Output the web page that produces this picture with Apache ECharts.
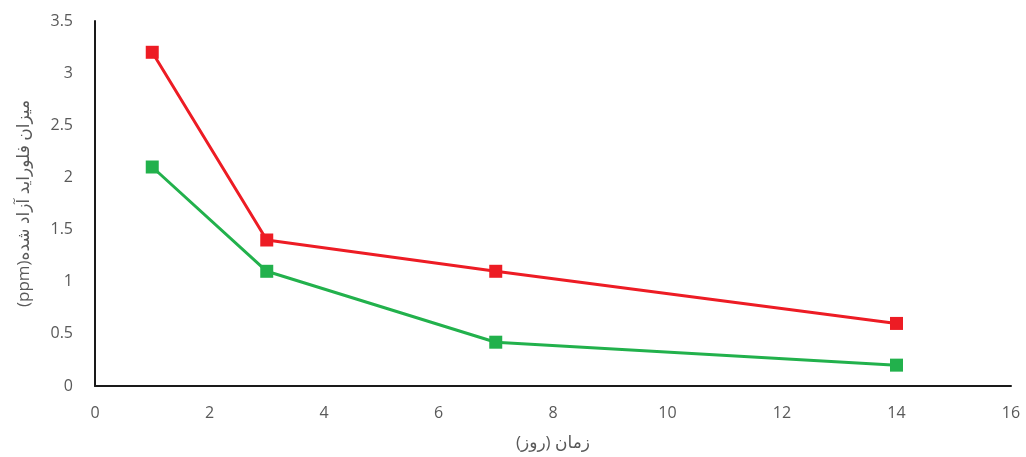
<!DOCTYPE html>
<html>
<head>
<meta charset="utf-8">
<script src="https://cdn.jsdelivr.net/npm/echarts@6/dist/echarts.min.js"></script>
<style>
  html, body { margin: 0; padding: 0; background: #fff; overflow: hidden; }
  #chart { width: 1026px; height: 457px; }
</style>
</head>
<body>
<div id="chart"></div>
<script>
// Fluoride release over time (days), two samples
const days = [1, 3, 7, 14];
const redValues = [3.2, 1.4, 1.1, 0.6];
const greenValues = [2.1, 1.1, 0.42, 0.2];

// Axis titles (wrapped in RTL embedding so the Persian text lays out right-to-left)
const xTitle = '\u202Bزمان (روز)\u202C';
const yTitle = '\u202Bمیزان فلوراید آزاد شده(ppm)\u202C';

const font = "'Open Sans', 'DejaVu Sans', sans-serif";
const labelColor = '#595959';

function pairs(xs, ys) {
  return xs.map((x, i) => [x, ys[i]]);
}

const chart = echarts.init(document.getElementById('chart'), null, { renderer: 'canvas' });
chart.setOption({
  animation: false,
  backgroundColor: '#ffffff',
  grid: { left: 95, right: 15, top: 21, bottom: 68, containLabel: false },
  xAxis: {
    type: 'value',
    min: 0, max: 16, interval: 2,
    name: xTitle,
    nameLocation: 'middle',
    nameGap: 49,
    nameTextStyle: { color: labelColor, fontSize: 17, fontFamily: font },
    axisLine: { show: true, lineStyle: { color: '#1a1a1a', width: 2 } },
    axisTick: { show: false },
    splitLine: { show: false },
    axisLabel: { color: labelColor, fontSize: 16, fontFamily: font, margin: 19 }
  },
  yAxis: {
    type: 'value',
    min: 0, max: 3.5, interval: 0.5,
    name: yTitle,
    nameLocation: 'middle',
    nameGap: 62,
    nameRotate: 90,
    nameTextStyle: { color: labelColor, fontSize: 17, fontFamily: font },
    axisLine: { show: true, lineStyle: { color: '#1a1a1a', width: 2 } },
    axisTick: { show: false },
    splitLine: { show: false },
    axisLabel: { color: labelColor, fontSize: 16, fontFamily: font, margin: 22 }
  },
  series: [
    {
      type: 'line',
      data: pairs(days, redValues),
      symbol: 'rect',
      symbolSize: 13,
      lineStyle: { color: '#ED1C24', width: 3 },
      itemStyle: { color: '#ED1C24' }
    },
    {
      type: 'line',
      data: pairs(days, greenValues),
      symbol: 'rect',
      symbolSize: 13,
      lineStyle: { color: '#22B14C', width: 3 },
      itemStyle: { color: '#22B14C' }
    }
  ]
});
</script>
</body>
</html>
